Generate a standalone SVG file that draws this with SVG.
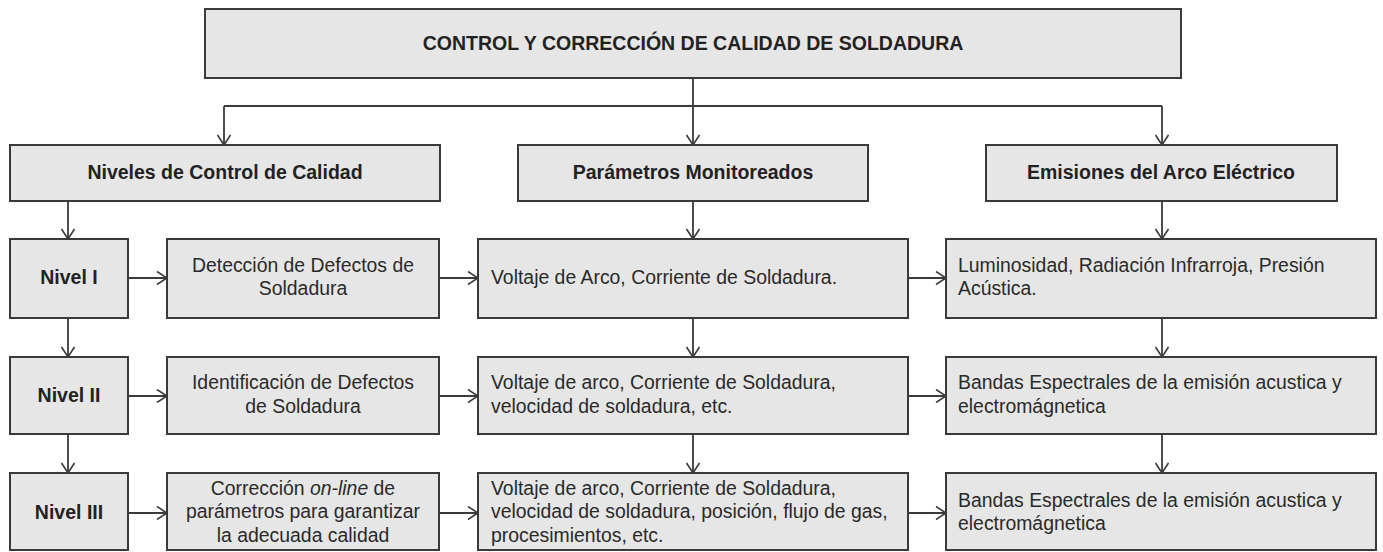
<svg xmlns="http://www.w3.org/2000/svg" width="1383" height="552" viewBox="0 0 1383 552">
<style>
  .box { fill: #e6e6e6; stroke: #3a3a3a; stroke-width: 2; }
  .hb { font-family: "Liberation Sans", Arial, sans-serif; font-weight: bold; font-size: 19.5px; fill: #222; text-anchor: middle; }
  .tc { font-family: "Liberation Sans", Arial, sans-serif; font-size: 19.4px; fill: #2a2a2a; text-anchor: middle; }
  .tl { font-family: "Liberation Sans", Arial, sans-serif; font-size: 19.4px; fill: #2a2a2a; }
  .ln { fill: none; stroke: #3a3a3a; stroke-width: 1.8; }
  .ar { fill: none; stroke: #3a3a3a; stroke-width: 1.8; marker-end: url(#chev); }
</style>
<defs>
  <marker id="chev" markerUnits="userSpaceOnUse" viewBox="0 0 12 14" refX="11" refY="7" markerWidth="12" markerHeight="14" orient="auto">
    <path d="M1,0.5 L11,7 L1,13.5" fill="none" stroke="#3a3a3a" stroke-width="1.6"/>
  </marker>
</defs>
<rect width="1383" height="552" fill="#ffffff"/>

<g id="connectors">
  <line class="ar" x1="693" y1="78" x2="693" y2="145"/>
  <line class="ln" x1="224" y1="106" x2="1162" y2="106"/>
  <line class="ar" x1="224" y1="106" x2="224" y2="145"/>
  <line class="ar" x1="1162" y1="106" x2="1162" y2="145"/>
  <line class="ar" x1="68" y1="201" x2="68" y2="239"/>
  <line class="ar" x1="693" y1="201" x2="693" y2="239"/>
  <line class="ar" x1="1162" y1="201" x2="1162" y2="239"/>
  <line class="ar" x1="68" y1="318" x2="68" y2="357"/>
  <line class="ar" x1="693" y1="318" x2="693" y2="357"/>
  <line class="ar" x1="1162" y1="318" x2="1162" y2="357"/>
  <line class="ar" x1="68" y1="434" x2="68" y2="473"/>
  <line class="ar" x1="693" y1="434" x2="693" y2="473"/>
  <line class="ar" x1="1162" y1="434" x2="1162" y2="473"/>
  <line class="ar" x1="128" y1="278" x2="167" y2="278"/>
  <line class="ar" x1="439" y1="278" x2="478" y2="278"/>
  <line class="ar" x1="908" y1="278" x2="946" y2="278"/>
  <line class="ar" x1="128" y1="396" x2="167" y2="396"/>
  <line class="ar" x1="439" y1="396" x2="478" y2="396"/>
  <line class="ar" x1="908" y1="396" x2="946" y2="396"/>
  <line class="ar" x1="128" y1="513" x2="167" y2="513"/>
  <line class="ar" x1="439" y1="513" x2="478" y2="513"/>
  <line class="ar" x1="908" y1="513" x2="946" y2="513"/>
</g>

<g id="title">
  <rect class="box" x="205" y="9" width="976" height="69"/>
  <text class="hb" x="693" y="50">CONTROL Y CORRECCIÓN DE CALIDAD DE SOLDADURA</text>
</g>

<g id="niveles">
  <rect class="box" x="10" y="145" width="430" height="56"/>
  <text class="hb" x="225" y="179">Niveles de Control de Calidad</text>
</g>
<g id="parametros">
  <rect class="box" x="518" y="145" width="350" height="56"/>
  <text class="hb" x="693" y="179">Parámetros Monitoreados</text>
</g>
<g id="emisiones">
  <rect class="box" x="986" y="145" width="351" height="56"/>
  <text class="hb" x="1161" y="179">Emisiones del Arco Eléctrico</text>
</g>

<g id="nivel1">
  <rect class="box" x="10" y="239" width="118" height="79"/>
  <text class="hb" x="69" y="284">Nivel I</text>
</g>
<g id="nivel2">
  <rect class="box" x="10" y="357" width="118" height="77"/>
  <text class="hb" x="69" y="402">Nivel II</text>
</g>
<g id="nivel3">
  <rect class="box" x="10" y="473" width="118" height="77"/>
  <text class="hb" x="69" y="519">Nivel III</text>
</g>

<g id="deteccion">
  <rect class="box" x="167" y="239" width="272" height="79"/>
  <text class="tc" x="303" y="272">Detección de Defectos de</text>
  <text class="tc" x="303" y="295">Soldadura</text>
</g>
<g id="identificacion">
  <rect class="box" x="167" y="357" width="272" height="77"/>
  <text class="tc" x="303" y="389">Identificación de Defectos</text>
  <text class="tc" x="303" y="413">de Soldadura</text>
</g>
<g id="correccion">
  <rect class="box" x="167" y="473" width="272" height="77"/>
  <text class="tc" x="303" y="495">Corrección <tspan font-style="italic">on-line</tspan> de</text>
  <text class="tc" x="303" y="518">parámetros para garantizar</text>
  <text class="tc" x="303" y="542">la adecuada calidad</text>
</g>

<g id="param1">
  <rect class="box" x="478" y="239" width="430" height="79"/>
  <text class="tl" x="491" y="284">Voltaje de Arco, Corriente de Soldadura.</text>
</g>
<g id="param2">
  <rect class="box" x="478" y="357" width="430" height="77"/>
  <text class="tl" x="491" y="389">Voltaje de arco, Corriente de Soldadura,</text>
  <text class="tl" x="491" y="413">velocidad de soldadura, etc.</text>
</g>
<g id="param3">
  <rect class="box" x="478" y="473" width="430" height="77"/>
  <text class="tl" x="491" y="495">Voltaje de arco, Corriente de Soldadura,</text>
  <text class="tl" x="491" y="518">velocidad de soldadura, posición, flujo de gas,</text>
  <text class="tl" x="491" y="542">procesimientos, etc.</text>
</g>

<g id="emision1">
  <rect class="box" x="946" y="239" width="430" height="79"/>
  <text class="tl" x="958" y="272">Luminosidad, Radiación Infrarroja, Presión</text>
  <text class="tl" x="958" y="295">Acústica.</text>
</g>
<g id="emision2">
  <rect class="box" x="946" y="357" width="430" height="77"/>
  <text class="tl" x="958" y="389">Bandas Espectrales de la emisión acustica y</text>
  <text class="tl" x="958" y="413">electromágnetica</text>
</g>
<g id="emision3">
  <rect class="box" x="946" y="473" width="430" height="77"/>
  <text class="tl" x="958" y="507">Bandas Espectrales de la emisión acustica y</text>
  <text class="tl" x="958" y="530">electromágnetica</text>
</g>
</svg>
